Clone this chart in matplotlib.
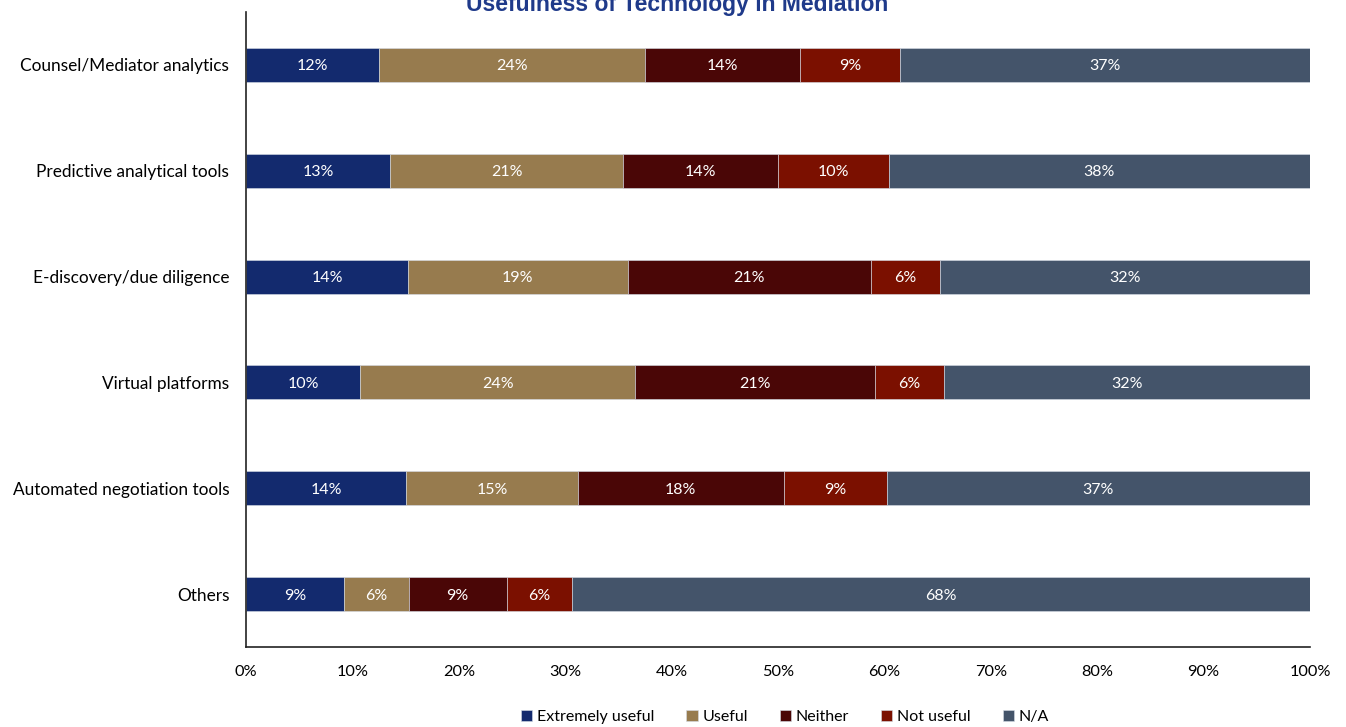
import matplotlib
matplotlib.use("Agg")
import matplotlib.pyplot as plt
import numpy as np

categories = [
    "Counsel/Mediator analytics",
    "Predictive analytical tools",
    "E-discovery/due diligence",
    "Virtual platforms",
    "Automated negotiation tools",
    "Others",
]
series_names = ["Extremely useful", "Useful", "Neither", "Not useful", "N/A"]
extremely_useful = [12, 13, 14, 10, 14, 9]
useful = [24, 21, 19, 24, 15, 6]
neither = [14, 14, 21, 21, 18, 9]
not_useful = [9, 10, 6, 6, 9, 6]
not_applicable = [37, 38, 32, 32, 37, 68]
colors = ["#132A6E", "#977B4E", "#4A0606", "#7B1000", "#44546A"]
x_ticks = [0, 10, 20, 30, 40, 50, 60, 70, 80, 90, 100]
x_tick_labels = [f"{t}%" for t in x_ticks]

plt.rcParams["font.family"] = ["Lato", "DejaVu Sans"]

values = np.array([extremely_useful, useful, neither, not_useful, not_applicable], dtype=float)
shares = values / values.sum(axis=0) * 100  # each row fills 100%

fig = plt.figure(figsize=(13.46, 7.27), dpi=100)
W, H = 1346, 727
ax = fig.add_axes([246 / W, (H - 647) / H, (1310 - 246) / W, (647 - 12) / H])

y = np.arange(len(categories))
left = np.zeros(len(categories))
for name, share, raw, col in zip(series_names, shares, values, colors):
    bars = ax.barh(y, share, left=left, height=0.32, color=col, label=name,
                   edgecolor="#D6DCE5", linewidth=0.4)
    for rect, v in zip(bars, raw):
        ax.text(rect.get_x() + rect.get_width() / 2, rect.get_y() + rect.get_height() / 2,
                f"{int(v)}%", ha="center", va="center_baseline", color="white", fontsize=11.5)
    left += share

ax.set_xlim(0, 100)
ax.set_ylim(len(categories) - 0.5, -0.5)
ax.set_yticks(y)
ax.set_yticklabels(categories, fontsize=12.4)
ax.set_xticks(x_ticks)
ax.set_xticklabels(x_tick_labels, fontsize=11.8)
ax.tick_params(axis="both", length=0)
ax.tick_params(axis="y", pad=12)
ax.tick_params(axis="x", pad=13)
for s in ("top", "right"):
    ax.spines[s].set_visible(False)
for s in ("left", "bottom"):
    ax.spines[s].set_linewidth(1.2)
    ax.spines[s].set_color("#222222")

fig.text(677 / W, 1 - 4 / H, "Usefulness of Technology in Mediation", ha="center", va="center",
         fontsize=16.5, fontweight="bold", color="#1F3A8A", family="Liberation Sans")

fig.legend(loc="center", bbox_to_anchor=(785 / W, 1 - 717 / H), ncol=5, frameon=False,
           fontsize=11.5, handlelength=0.7, handleheight=0.7, handletextpad=0.3, columnspacing=2.0)

fig.savefig("out.png", dpi=100)
